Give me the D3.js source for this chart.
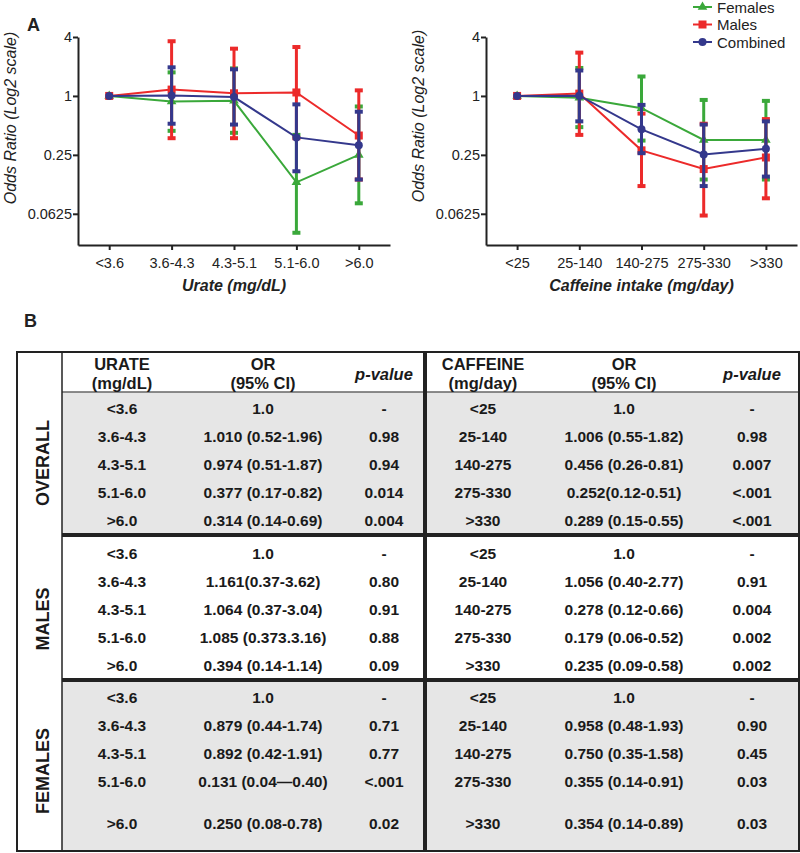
<!DOCTYPE html>
<html><head><meta charset="utf-8">
<script src="https://cdn.jsdelivr.net/npm/d3@7"></script>
<style>
body{margin:0;background:#fff;}
svg text{font-family:"Liberation Sans",Arial,sans-serif;}
</style></head>
<body><svg id="c" width="800" height="853"></svg>
<script>
// ---------- DATA ----------
const urateCats = ["<3.6","3.6-4.3","4.3-5.1","5.1-6.0",">6.0"];
const caffCats  = ["<25","25-140","140-275","275-330",">330"];
const yTicks = [4,1,0.25,0.0625];
const seriesNames = ["Females","Males","Combined"];

// Urate OR and CI
const urateFemOR = [1,0.879,0.892,0.131,0.250];
const urateFemLo = [null,0.44,0.42,0.04,0.08];
const urateFemHi = [null,1.74,1.91,0.40,0.78];
const urateMalOR = [1,1.161,1.064,1.085,0.394];
const urateMalLo = [null,0.37,0.37,0.37,0.14];
const urateMalHi = [null,3.62,3.04,3.16,1.14];
const urateComOR = [1,1.010,0.974,0.377,0.314];
const urateComLo = [null,0.52,0.51,0.17,0.14];
const urateComHi = [null,1.96,1.87,0.82,0.69];

// Caffeine OR and CI
const caffFemOR = [1,0.958,0.750,0.355,0.354];
const caffFemLo = [null,0.48,0.35,0.14,0.14];
const caffFemHi = [null,1.93,1.58,0.91,0.89];
const caffMalOR = [1,1.056,0.278,0.179,0.235];
const caffMalLo = [null,0.40,0.12,0.06,0.09];
const caffMalHi = [null,2.77,0.66,0.52,0.58];
const caffComOR = [1,1.006,0.456,0.252,0.289];
const caffComLo = [null,0.55,0.26,0.12,0.15];
const caffComHi = [null,1.82,0.81,0.51,0.55];

// Table text
const sectionNames = ["OVERALL","MALES","FEMALES"];
const tblUrateOR = [
  ["1.0","1.010 (0.52-1.96)","0.974 (0.51-1.87)","0.377 (0.17-0.82)","0.314 (0.14-0.69)"],
  ["1.0","1.161(0.37-3.62)","1.064 (0.37-3.04)","1.085 (0.373.3.16)","0.394 (0.14-1.14)"],
  ["1.0","0.879 (0.44-1.74)","0.892 (0.42-1.91)","0.131 (0.04\u20140.40)","0.250 (0.08-0.78)"]
];
const tblUrateP = [
  ["-","0.98","0.94","0.014","0.004"],
  ["-","0.80","0.91","0.88","0.09"],
  ["-","0.71","0.77","<.001","0.02"]
];
const tblCaffOR = [
  ["1.0","1.006 (0.55-1.82)","0.456 (0.26-0.81)","0.252(0.12-0.51)","0.289 (0.15-0.55)"],
  ["1.0","1.056 (0.40-2.77)","0.278 (0.12-0.66)","0.179 (0.06-0.52)","0.235 (0.09-0.58)"],
  ["1.0","0.958 (0.48-1.93)","0.750 (0.35-1.58)","0.355 (0.14-0.91)","0.354 (0.14-0.89)"]
];
const tblCaffP = [
  ["-","0.98","0.007","<.001","<.001"],
  ["-","0.91","0.004","0.002","0.002"],
  ["-","0.90","0.45","0.03","0.03"]
];

// ---------- STYLE ----------
const colors = {Females:"#3aa83a", Males:"#ec2a2a", Combined:"#34388c"};
const svg = d3.select("#c");

function makeSeries(name, or, lo, hi){
  return or.map((v,i)=>({name, i, v, lo:lo[i], hi:hi[i]}));
}

function drawPanel(opt){
  const g = svg.append("g");
  const x = d3.scalePoint().domain(opt.cats).range([opt.x0, opt.x1]).padding(0.5);
  const y = d3.scaleLog().base(2).domain([0.03,4]).range([245,37]);

  const ya = g.append("g").attr("transform",`translate(${opt.x0},0)`)
    .call(d3.axisLeft(y).tickValues(yTicks).tickFormat(d=>String(d)).tickSize(5).tickSizeOuter(0));
  const xa = g.append("g").attr("transform",`translate(0,245)`)
    .call(d3.axisBottom(x).tickSize(5).tickSizeOuter(0));
  [ya,xa].forEach(a=>{
    a.attr("font-family",null);
    a.select(".domain").attr("stroke","#222").attr("stroke-width",2);
    a.selectAll(".tick line").attr("stroke","#222").attr("stroke-width",2);
    a.selectAll(".tick text").attr("font-size",14.5).attr("fill","#222");
  });
  xa.selectAll(".tick text").attr("dy","1.05em");
  ya.selectAll(".tick text").attr("x",-6);

  // y title
  g.append("text").attr("transform",`translate(${opt.x0-62},${opt.yTitleY}) rotate(-90)`)
    .attr("text-anchor","middle").attr("font-size",16).attr("font-style","italic").attr("fill","#222")
    .text("Odds Ratio (Log2 scale)");
  // x title
  g.append("text").attr("x",(opt.x0+opt.x1)/2).attr("y",291).attr("text-anchor","middle")
    .attr("font-size",16).attr("font-weight","bold").attr("font-style","italic").attr("fill","#222")
    .text(opt.xTitle);

  const series = opt.series;
  const line = d3.line().x(d=>x(opt.cats[d.i])).y(d=>y(d.v));
  series.forEach(s=>{
    const c = colors[s[0].name];
    const sg = g.append("g");
    s.filter(d=>d.lo!=null).forEach(d=>{
      const cx = x(opt.cats[d.i]);
      sg.append("line").attr("x1",cx).attr("x2",cx).attr("y1",y(d.lo)).attr("y2",y(d.hi))
        .attr("stroke",c).attr("stroke-width",3);
      [d.lo,d.hi].forEach(v=>{
        sg.append("rect").attr("x",cx-4).attr("y",y(v)-2).attr("width",8).attr("height",4).attr("fill",c);
      });
    });
    sg.append("path").datum(s).attr("d",line).attr("fill","none").attr("stroke",c).attr("stroke-width",2);
    s.forEach(d=>{
      drawMarker(sg, s[0].name, x(opt.cats[d.i]), y(d.v), c);
    });
  });
}

function drawMarker(g, name, cx, cy, c){
  if(name==="Males"){
    g.append("rect").attr("x",cx-4).attr("y",cy-4).attr("width",8).attr("height",8).attr("fill",c);
  } else if(name==="Combined"){
    g.append("circle").attr("cx",cx).attr("cy",cy).attr("r",4).attr("fill",c);
  } else {
    g.append("path").attr("d",d3.symbol(d3.symbolTriangle,40)()).attr("transform",`translate(${cx},${cy})`).attr("fill",c);
  }
}

drawPanel({
  cats: urateCats, x0:78, x1:390, yTitleY:118, xTitle:"Urate (mg/dL)",
  series:[makeSeries("Females",urateFemOR,urateFemLo,urateFemHi),
          makeSeries("Males",urateMalOR,urateMalLo,urateMalHi),
          makeSeries("Combined",urateComOR,urateComLo,urateComHi)]
});
drawPanel({
  cats: caffCats, x0:486, x1:797, yTitleY:116, xTitle:"Caffeine intake (mg/day)",
  series:[makeSeries("Females",caffFemOR,caffFemLo,caffFemHi),
          makeSeries("Males",caffMalOR,caffMalLo,caffMalHi),
          makeSeries("Combined",caffComOR,caffComLo,caffComHi)]
});

// Legend
const leg = svg.append("g");
seriesNames.forEach((n,i)=>{
  const ly = 7 + i*17.5, c = colors[n];
  leg.append("line").attr("x1",693).attr("x2",712).attr("y1",ly).attr("y2",ly).attr("stroke",c).attr("stroke-width",2);
  drawMarker(leg, n, 702.5, ly, c);
  leg.append("text").attr("x",717).attr("y",ly+5.5).attr("font-size",15).attr("fill","#222").text(n);
});

// Panel letters
svg.append("text").attr("x",27).attr("y",31).attr("font-size",18).attr("font-weight","bold").attr("fill","#222").text("A");
svg.append("text").attr("x",24).attr("y",327).attr("font-size",18).attr("font-weight","bold").attr("fill","#222").text("B");

// ---------- TABLE ----------
const T = {left:17, right:799, top:352, bottom:851, labCol:62, mid:425, head:392};
const secTops = [392, 537, 681];
const secBounds = [[392,535],[535,680],[680,851]];
const secLabelY = [463, 619, 771];
const tg = svg.append("g");
[0,2].forEach(k=>{
  tg.append("rect").attr("x",T.labCol).attr("y",secBounds[k][0]).attr("width",T.right-T.labCol)
    .attr("height",secBounds[k][1]-secBounds[k][0]).attr("fill","#e6e6e6");
});
tg.append("line").attr("x1",T.labCol).attr("x2",T.right).attr("y1",T.head).attr("y2",T.head).attr("stroke","#666").attr("stroke-width",1.5);
tg.append("line").attr("x1",T.labCol).attr("x2",T.labCol).attr("y1",T.top).attr("y2",T.bottom).attr("stroke","#222").attr("stroke-width",1.5);
[535,680].forEach(yy=>{
  tg.append("line").attr("x1",T.labCol).attr("x2",T.right).attr("y1",yy).attr("y2",yy).attr("stroke","#222").attr("stroke-width",4);
});
tg.append("line").attr("x1",T.mid).attr("x2",T.mid).attr("y1",T.top).attr("y2",T.bottom).attr("stroke","#222").attr("stroke-width",4);
tg.append("rect").attr("x",T.left).attr("y",T.top).attr("width",T.right-T.left).attr("height",T.bottom-T.top)
  .attr("fill","none").attr("stroke","#222").attr("stroke-width",2);

function txt(x,y,s,opts={}){
  tg.append("text").attr("x",x).attr("y",y).attr("text-anchor","middle").attr("font-size",opts.size||15.5)
    .attr("font-weight","bold").attr("font-style",opts.italic?"italic":"normal").attr("fill","#1a1a1a").text(s);
}
const colX = [122, 263, 384, 483, 624, 752];
txt(colX[0],370,"URATE",{size:16.5}); txt(colX[0],389,"(mg/dL)",{size:16.5});
txt(colX[1],370,"OR",{size:16.5}); txt(colX[1],389,"(95% CI)",{size:16.5});
txt(colX[2],380,"p-value",{size:16.5,italic:true});
txt(colX[3],370,"CAFFEINE",{size:16.5}); txt(colX[3],389,"(mg/day)",{size:16.5});
txt(colX[4],370,"OR",{size:16.5}); txt(colX[4],389,"(95% CI)",{size:16.5});
txt(colX[5],380,"p-value",{size:16.5,italic:true});

sectionNames.forEach((nm,k)=>{
  tg.append("text").attr("transform",`translate(${43+6},${secLabelY[k]}) rotate(-90)`)
    .attr("text-anchor","middle").attr("font-size",18).attr("font-weight","bold").attr("fill","#1a1a1a").text(nm);
  for(let i=0;i<5;i++){
    const ry = secTops[k] + 16 + i*28 + (k===2 && i===4 ? 14 : 0) + 5.5;
    txt(colX[0],ry,urateCats[i]);
    txt(colX[1],ry,tblUrateOR[k][i]);
    txt(colX[2],ry,tblUrateP[k][i]);
    txt(colX[3],ry,caffCats[i]);
    txt(colX[4],ry,tblCaffOR[k][i]);
    txt(colX[5],ry,tblCaffP[k][i]);
  }
});
</script></body></html>
